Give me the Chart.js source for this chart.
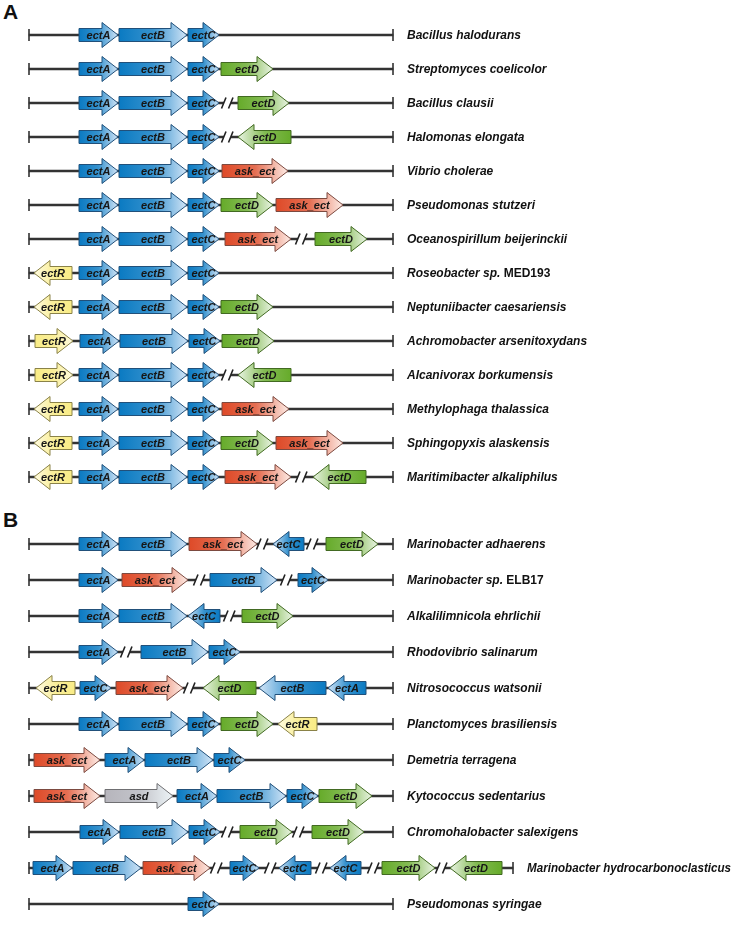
<!DOCTYPE html>
<html>
<head>
<meta charset="utf-8">
<script src="https://cdn.jsdelivr.net/npm/chart.js@4"></script>
<style>
  body { margin: 0; background: #fff; width: 732px; height: 925px; position: relative; overflow: hidden; font-family: "Liberation Sans", Arial, sans-serif; }
  .panel { position: absolute; left: 3px; font-weight: bold; font-size: 21px; line-height: 21px; color: #111; }
  canvas { position: absolute; left: 0; }
</style>
</head>
<body>
<div class="panel" style="top:1px">A</div>
<canvas id="chartA" width="732" height="476" style="top:18px"></canvas>
<div class="panel" style="top:509px">B</div>
<canvas id="chartB" width="732" height="396" style="top:526px"></canvas>
<script>
// positions along each locus, in units of ~100 bp from the left end of the drawn region
// a gene is [name, start, end]; end < start means it sits on the reverse strand

const speciesA = [
  "Bacillus halodurans", "Streptomyces coelicolor", "Bacillus clausii", "Halomonas elongata",
  "Vibrio cholerae", "Pseudomonas stutzeri", "Oceanospirillum beijerinckii", "Roseobacter sp. MED193",
  "Neptuniibacter caesariensis", "Achromobacter arsenitoxydans", "Alcanivorax borkumensis",
  "Methylophaga thalassica", "Sphingopyxis alaskensis", "Maritimibacter alkaliphilus"
];
const locusEndA = [91, 91, 91, 91, 91, 91, 91, 91, 91, 91, 91, 91, 91, 91];
const genesA = [
  [["ectA", 12.5, 22.25], ["ectB", 22.5, 39.5], ["ectC", 39.75, 47.5]],
  [["ectA", 12.5, 22.25], ["ectB", 22.5, 39.5], ["ectC", 39.75, 47.5], ["ectD", 48, 61]],
  [["ectA", 12.5, 22.25], ["ectB", 22.5, 39.5], ["ectC", 39.75, 47.5], ["ectD", 52.25, 65]],
  [["ectA", 12.5, 22.25], ["ectB", 22.5, 39.5], ["ectC", 39.75, 47.5], ["ectD", 65.5, 52.25]],
  [["ectA", 12.5, 22.25], ["ectB", 22.5, 39.5], ["ectC", 39.75, 47.5], ["ask_ect", 48.25, 64.75]],
  [["ectA", 12.5, 22.25], ["ectB", 22.5, 39.5], ["ectC", 39.75, 47.5], ["ectD", 48, 61], ["ask_ect", 61.75, 78.5]],
  [["ectA", 12.5, 22.25], ["ectB", 22.5, 39.5], ["ectC", 39.75, 47.5], ["ask_ect", 49, 65.5], ["ectD", 71.5, 84.5]],
  [["ectR", 10.75, 1.25], ["ectA", 12.5, 22.25], ["ectB", 22.5, 39.5], ["ectC", 39.75, 47.5]],
  [["ectR", 10.75, 1.25], ["ectA", 12.5, 22.25], ["ectB", 22.5, 39.5], ["ectC", 39.75, 47.5], ["ectD", 48, 61]],
  [["ectR", 1.5, 11], ["ectA", 12.75, 22.5], ["ectB", 22.75, 39.75], ["ectC", 40, 47.75], ["ectD", 48.25, 61.25]],
  [["ectR", 1.5, 11], ["ectA", 12.5, 22.25], ["ectB", 22.5, 39.5], ["ectC", 39.75, 47.5], ["ectD", 65.5, 52.25]],
  [["ectR", 10.75, 1.25], ["ectA", 12.5, 22.25], ["ectB", 22.5, 39.5], ["ectC", 39.75, 47.5], ["ask_ect", 48.25, 65]],
  [["ectR", 10.75, 1.25], ["ectA", 12.5, 22.25], ["ectB", 22.5, 39.5], ["ectC", 39.75, 47.5], ["ectD", 48, 61], ["ask_ect", 61.75, 78.5]],
  [["ectR", 10.75, 1.25], ["ectA", 12.5, 22.25], ["ectB", 22.5, 39.5], ["ectC", 39.75, 47.5], ["ask_ect", 49, 65.5], ["ectD", 84.25, 71]]
];
const breaksA = [[], [], [49.75], [49.75], [], [], [68.25], [], [], [], [49.75], [], [], [68.25]];

const speciesB = [
  "Marinobacter adhaerens", "Marinobacter sp. ELB17", "Alkalilimnicola ehrlichii", "Rhodovibrio salinarum",
  "Nitrosococcus watsonii", "Planctomyces brasiliensis", "Demetria terragena", "Kytococcus sedentarius",
  "Chromohalobacter salexigens", "Marinobacter hydrocarbonoclasticus", "Pseudomonas syringae"
];
const locusEndB = [91, 91, 91, 91, 91, 91, 91, 91, 91, 121, 91];
const genesB = [
  [["ectA", 12.5, 22.25], ["ectB", 22.5, 39.5], ["ask_ect", 40, 57], ["ectC", 68.75, 61], ["ectD", 74.25, 87.25]],
  [["ectA", 12.5, 22.25], ["ask_ect", 23.25, 39.75], ["ectB", 45.25, 62], ["ectC", 67.25, 74.75]],
  [["ectA", 12.5, 22.25], ["ectB", 22.5, 39.5], ["ectC", 47.75, 39.75], ["ectD", 53.25, 66]],
  [["ectA", 12.5, 22.25], ["ectB", 28, 44.75], ["ectC", 45, 52.75]],
  [["ectR", 11.5, 1.75], ["ectC", 12.75, 20.5], ["ask_ect", 21.75, 38.5], ["ectD", 56.75, 43.5], ["ectB", 74.25, 57.5], ["ectA", 84.25, 74.75]],
  [["ectA", 12.5, 22.25], ["ectB", 22.5, 39.5], ["ectC", 39.75, 47.5], ["ectD", 48, 61], ["ectR", 72, 62.25]],
  [["ask_ect", 1.25, 17.75], ["ectA", 19, 28.75], ["ectB", 29, 46], ["ectC", 46.25, 54]],
  [["ask_ect", 1.25, 17.75], ["asd", 19, 36], ["ectA", 37, 47], ["ectB", 47, 64.25], ["ectC", 64.5, 72.25], ["ectD", 72.5, 85.75]],
  [["ectA", 12.75, 22.5], ["ectB", 22.75, 39.75], ["ectC", 40, 47.75], ["ectD", 52.75, 65.75], ["ectD", 70.75, 83.75]],
  [["ectA", 1, 10.75], ["ectB", 11, 28], ["ask_ect", 28.5, 45.25], ["ectC", 50.25, 57.5], ["ectC", 70.5, 62.5],
   ["ectC", 83, 75.25], ["ectD", 88.25, 101.5], ["ectD", 118.25, 105.25]],
  [["ectC", 39.75, 47.5]]
];
const breaksB = [[58.5, 71], [42.75, 64.5], [50.25], [24.5], [40.25], [], [], [], [49.75, 67.5],
  [47, 60.5, 73.25, 86.25, 103.25], []];

const geneStyles = {
  ectA: { dark: "#0a7ac2", light: "#d2e5f7", edge: "#21507a" },
  ectB: { dark: "#0a7ac2", light: "#d2e5f7", edge: "#21507a" },
  ectC: { dark: "#0a7ac2", light: "#d2e5f7", edge: "#21507a" },
  ectD: { dark: "#66ab2a", light: "#eaf4e4", edge: "#426a22" },
  ask_ect: { dark: "#de4a28", light: "#fdece6", edge: "#7c4a40" },
  ectR: { dark: "#f9ec86", light: "#fffbe2", edge: "#8a8248" },
  asd: { dark: "#b6b5bc", light: "#edf4f7", edge: "#6f6f72" }
};

function mix(a, b, t) {
  const pa = parseInt(a.slice(1), 16), pb = parseInt(b.slice(1), 16);
  const ch = s => [(s >> 16) & 255, (s >> 8) & 255, s & 255];
  const ca = ch(pa), cb = ch(pb);
  return "rgb(" + ca.map((v, i) => Math.round(v + (cb[i] - v) * t)).join(",") + ")";
}

function drawGene(ctx, gene, x, cy) {
  const [name, from, to] = gene;
  const st = geneStyles[name];
  const x0 = x.getPixelForValue(from), x1 = x.getPixelForValue(to);
  const dir = x1 > x0 ? 1 : -1;
  const head = Math.min(16, Math.abs(x1 - x0) * 0.55);
  const neck = x1 - dir * head;
  const body = 6.5, wing = 12.5;

  ctx.save();
  ctx.beginPath();
  ctx.moveTo(x0, cy - body);
  ctx.lineTo(neck, cy - body);
  ctx.lineTo(neck, cy - wing);
  ctx.lineTo(x1, cy);
  ctx.lineTo(neck, cy + wing);
  ctx.lineTo(neck, cy + body);
  ctx.lineTo(x0, cy + body);
  ctx.closePath();
  const grad = ctx.createLinearGradient(x0, 0, x1, 0);
  grad.addColorStop(0, st.dark);
  grad.addColorStop(0.5, mix(st.dark, st.light, 0.22));
  grad.addColorStop(1, st.light);
  ctx.fillStyle = grad;
  ctx.fill();
  ctx.lineWidth = 1;
  ctx.strokeStyle = st.edge;
  ctx.stroke();

  ctx.fillStyle = "#161616";
  ctx.font = 'italic bold 11px "Liberation Sans", Arial, sans-serif';
  ctx.textAlign = "center";
  ctx.textBaseline = "middle";
  ctx.fillText(name, (x0 + x1) / 2, cy + 0.5);
  ctx.restore();
}

function drawBreak(ctx, bx, cy) {
  ctx.save();
  ctx.fillStyle = "#fff";
  ctx.fillRect(bx - 4, cy - 3, 7, 6);
  ctx.strokeStyle = "#222";
  ctx.lineWidth = 1.6;
  ctx.beginPath();
  ctx.moveTo(bx - 6.5, cy + 5.5); ctx.lineTo(bx - 2, cy - 5.5);
  ctx.moveTo(bx + 0.5, cy + 5.5); ctx.lineTo(bx + 5, cy - 5.5);
  ctx.stroke();
  ctx.restore();
}

function drawSpecies(ctx, name, sx, cy, room) {
  ctx.save();
  ctx.fillStyle = "#111";
  ctx.textAlign = "left";
  ctx.textBaseline = "middle";
  const fontFor = word => (/\d/.test(word) ? "" : "italic ") + 'bold 12px "Liberation Sans", Arial, sans-serif';
  const parts = name.split(" ").map((word, k) => {
    ctx.font = fontFor(word);
    const txt = (k > 0 ? " " : "") + word;
    return { word, txt, w: ctx.measureText(txt).width };
  });
  const total = parts.reduce((s, p) => s + p.w, 0);
  // squeeze the long name in the last row so it fits inside the figure
  const squeeze = Math.min(1, room / total);
  ctx.translate(sx, cy + 0.5);
  ctx.scale(squeeze, 1);
  let px = 0;
  parts.forEach(p => {
    // strain designations are set upright, the rest in italics
    ctx.font = fontFor(p.word);
    ctx.fillText(p.txt, px, 0);
    px += p.w;
  });
  ctx.restore();
}

const geneMapPlugin = {
  id: "geneMap",
  afterDatasetsDraw(chart, args, opts) {
    const { ctx, scales: { x, y } } = chart;
    chart.data.labels.forEach((name, i) => {
      const cy = y.getPixelForValue(i);
      const xa = x.getPixelForValue(0), xb = x.getPixelForValue(opts.ends[i]);
      ctx.save();
      ctx.strokeStyle = "#333";
      ctx.lineWidth = 1.6;
      ctx.beginPath();
      ctx.moveTo(xa, cy - 6); ctx.lineTo(xa, cy + 6);
      ctx.moveTo(xb, cy - 6); ctx.lineTo(xb, cy + 6);
      ctx.stroke();
      ctx.restore();
      opts.breaks[i].forEach(b => drawBreak(ctx, x.getPixelForValue(b), cy));
      opts.genes[i].forEach(g => drawGene(ctx, g, x, cy));
      drawSpecies(ctx, name, xb + 14, cy, chart.width - xb - 15);
    });
  }
};

function makeMap(canvasId, species, ends, genes, breaks) {
  const ctx = document.getElementById(canvasId).getContext("2d");
  return new Chart(ctx, {
    type: "bar",
    plugins: [geneMapPlugin],
    data: {
      labels: species,
      datasets: [{
        label: "locus",
        data: ends.map(e => [0, e]),
        backgroundColor: "#333",
        barThickness: 1.6,
        borderWidth: 0
      }]
    },
    options: {
      responsive: false,
      animation: false,
      indexAxis: "y",
      layout: { padding: 0 },
      scales: {
        x: { type: "linear", min: -7.25, max: 175.75, display: false },
        y: { type: "category", display: false, offset: true }
      },
      plugins: {
        legend: { display: false },
        tooltip: { enabled: false },
        geneMap: { ends: ends, genes: genes, breaks: breaks }
      }
    }
  });
}

makeMap("chartA", speciesA, locusEndA, genesA, breaksA);
makeMap("chartB", speciesB, locusEndB, genesB, breaksB);
</script>
</body>
</html>
